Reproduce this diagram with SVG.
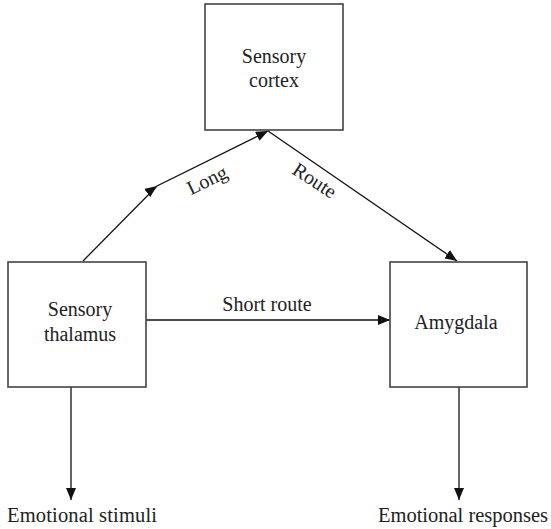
<svg xmlns="http://www.w3.org/2000/svg" width="551" height="529" viewBox="0 0 551 529">
<style>
.box{fill:#fff;stroke:#444;stroke-width:1.6}
.ln{fill:none;stroke:#111;stroke-width:1.3}
</style>
<defs>
<marker id="ah" viewBox="0 0 12 10" refX="12" refY="5" markerWidth="12" markerHeight="10" markerUnits="userSpaceOnUse" orient="auto">
<path d="M0,0 L12,5 L0,10 Z" fill="#111"/>
</marker>
</defs>
<g font-family="Liberation Serif" font-size="20" fill="#222" text-anchor="middle">
<g id="connectors">
<path class="ln" d="M83,261 L157,186 L268,131" marker-mid="url(#ah)" marker-end="url(#ah)"/>
<path class="ln" d="M268,131 L457,261" marker-end="url(#ah)"/>
<path class="ln" d="M146,320 L390,320" marker-end="url(#ah)"/>
<path class="ln" d="M71,387 L71,500" marker-end="url(#ah)"/>
<path class="ln" d="M459,387 L459,500" marker-end="url(#ah)"/>
<text transform="translate(210,186) rotate(-26)">Long</text>
<text transform="translate(311,186) rotate(33)">Route</text>
<text x="267" y="311">Short route</text>
</g>
<g id="cortex">
<rect class="box" x="205" y="4" width="138" height="126"/>
<text x="274" y="63">Sensory</text>
<text x="274" y="87">cortex</text>
</g>
<g id="thalamus">
<rect class="box" x="8" y="262" width="138" height="125"/>
<text x="80" y="316">Sensory</text>
<text x="80" y="341">thalamus</text>
</g>
<g id="amygdala">
<rect class="box" x="390" y="262" width="137" height="125"/>
<text x="456" y="329">Amygdala</text>
</g>
<g id="stimuli">
<text x="7" y="522" text-anchor="start" font-size="20.5" textLength="150">Emotional stimuli</text>
</g>
<g id="responses">
<text x="378" y="522" text-anchor="start" font-size="20.5" textLength="170">Emotional responses</text>
</g>
</g>
</svg>
